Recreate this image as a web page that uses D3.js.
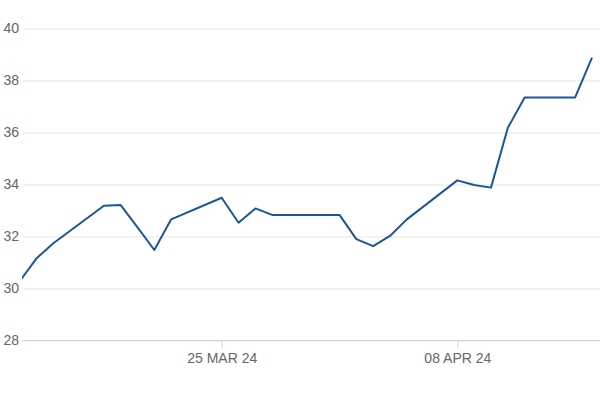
<!DOCTYPE html>
<html lang="en">
  <head>
    <meta charset="utf-8">
    <title>Price chart</title>
    <script src="https://cdn.jsdelivr.net/npm/d3@7"></script>
    <style>
      body { margin: 0; background: #fff; }
      svg { display: block; font-family: "Liberation Sans", Arial, sans-serif; }
    </style>
  </head>
  <body>
    <script>
    // trading days shown on the chart (Mar-Apr 2024)
    var dates = ["2024-03-13", "2024-03-14", "2024-03-15", "2024-03-18", "2024-03-19",
                 "2024-03-20", "2024-03-21", "2024-03-22", "2024-03-25", "2024-03-26",
                 "2024-03-27", "2024-03-28", "2024-03-29", "2024-04-01", "2024-04-02",
                 "2024-04-03", "2024-04-04", "2024-04-05", "2024-04-08", "2024-04-09",
                 "2024-04-10", "2024-04-11", "2024-04-12", "2024-04-15", "2024-04-16"];
    var prices = [30.28, 31.16, 31.74, 33.18, 33.21,
                  32.35, 31.48, 32.66, 33.49, 32.53,
                  33.08, 32.83, 32.83, 32.83, 31.90,
                  31.63, 32.02, 32.66, 34.16, 33.98,
                  33.88, 36.18, 37.35, 37.35, 38.88];
    var yTicks = [28, 30, 32, 34, 36, 38, 40];
    var xTicks = ["2024-03-25", "2024-04-08"];

    var w = 600;
    var h = 400;
    // plot edges (avoid "top", it clashes with window.top)
    var plotLeft = 22, plotTop = 28.5, plotBottom = 340.5;
    var xStart = 19.7, xEnd = 592; // first point sits just left of the plot edge

    var parse = d3.timeParse("%Y-%m-%d");
    var data = dates.map(function(d, i) {
      return { date: parse(d), value: prices[i] };
    });

    var svg = d3.select("body")
                .append("svg")
                .attr("width", w)
                .attr("height", h);

    svg.append("clipPath")
       .attr("id", "plot-clip")
       .append("rect")
       .attr("x", plotLeft)
       .attr("y", 0)
       .attr("width", w - plotLeft)
       .attr("height", h);

    var xScale = d3.scaleTime()
                   .domain(d3.extent(data, function(d) { return d.date; }))
                   .range([xStart, xEnd]);
    var yScale = d3.scaleLinear()
                   .domain([28, 40])
                   .range([plotBottom, plotTop]);

    // gridlines + y labels
    var yAxis = d3.axisLeft(yScale)
                  .tickValues(yTicks)
                  .tickSize(-(w - 23))
                  .tickPadding(4)
                  .tickFormat(d3.format("d"));
    var gy = svg.append("g")
                .attr("transform", "translate(23,0)")
                .call(yAxis);
    gy.select(".domain").remove();
    gy.selectAll(".tick line").attr("stroke", "#e6e6e6");
    gy.selectAll(".tick text")
      .attr("fill", "#666666")
      .attr("font-size", 14)
      .attr("font-family", "Liberation Sans, Arial, sans-serif");

    // x axis
    var xAxis = d3.axisBottom(xScale)
                  .tickValues(xTicks.map(parse))
                  .tickSize(8)
                  .tickSizeOuter(0)
                  .tickPadding(5)
                  .tickFormat(function(d) { return d3.timeFormat("%d %b %y")(d).toUpperCase(); });
    var gx = svg.append("g")
                .attr("transform", "translate(0," + yScale(28) + ")")
                .call(xAxis);
    gx.select(".domain").remove();
    gx.selectAll(".tick line").attr("stroke", "#ccd6eb");
    gx.selectAll(".tick text")
      .attr("fill", "#666666")
      .attr("font-size", 14)
      .attr("font-family", "Liberation Sans, Arial, sans-serif");
    gx.append("line")
      .attr("x1", plotLeft)
      .attr("x2", w)
      .attr("y1", 0)
      .attr("y2", 0)
      .attr("stroke", "#ccd6eb");

    // price line
    var line = d3.line()
                 .x(function(d) { return xScale(d.date); })
                 .y(function(d) { return yScale(d.value); });
    svg.append("path")
       .datum(data)
       .attr("clip-path", "url(#plot-clip)")
       .attr("d", line)
       .attr("fill", "none")
       .attr("stroke", "#1b5797")
       .attr("stroke-width", 2)
       .attr("stroke-linejoin", "round");
    </script>
  </body>
</html>
